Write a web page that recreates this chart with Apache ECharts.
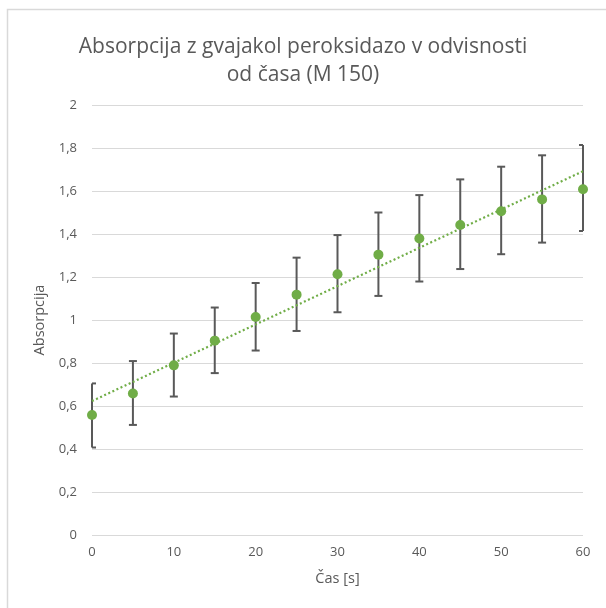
<!DOCTYPE html>
<html>
<head>
<meta charset="utf-8">
<script src="https://cdn.jsdelivr.net/npm/echarts@6/dist/echarts.min.js"></script>
<style>
  html, body { margin: 0; padding: 0; background: #fff; }
  #chart { width: 606px; height: 608px; }
</style>
</head>
<body>
<div id="chart"></div>
<script>
// podatki
const casi = [0, 5, 10, 15, 20, 25, 30, 35, 40, 45, 50, 55, 60]
const absorpcija = [0.558, 0.658, 0.789, 0.904, 1.014, 1.118, 1.213, 1.304, 1.379, 1.442, 1.506, 1.561, 1.608]
const napakaSpodaj = [0.407, 0.512, 0.644, 0.753, 0.858, 0.949, 1.036, 1.112, 1.179, 1.237, 1.306, 1.360, 1.414]
const napakaZgoraj = [0.705, 0.809, 0.937, 1.058, 1.172, 1.290, 1.395, 1.500, 1.581, 1.654, 1.713, 1.766, 1.814]
const trendX = [0, 60]
const trendY = [0.623, 1.692]

const gray = '#595959'
const green = '#70ad47'

const chart = echarts.init(document.getElementById('chart'), null, { renderer: 'canvas' })

const option = {
    animation: false,
    backgroundColor: '#fff',
    textStyle: { fontFamily: 'Open Sans' },
    title: {
        text: 'Absorpcija z gvajakol peroksidazo v odvisnosti\nod časa (M 150)',
        left: 'center',
        top: 28,
        textStyle: {
            fontFamily: 'Open Sans',
            fontSize: 21,
            fontWeight: 'normal',
            color: gray,
            lineHeight: 28
        }
    },
    graphic: [
        {
            type: 'polyline',
            shape: { points: [[7.5, 620], [7.5, 9.5], [620, 9.5]] },
            style: { stroke: '#d9d9d9', lineWidth: 1.5, fill: null },
            silent: true
        }
    ],
    grid: { left: 92, right: 23, top: 105, bottom: 73 },
    xAxis: {
        type: 'value',
        min: 0,
        max: 60,
        interval: 10,
        name: 'Čas [s]',
        nameLocation: 'middle',
        nameGap: 36,
        nameTextStyle: { color: gray, fontSize: 14.5 },
        axisLine: { show: false },
        axisTick: { show: false },
        splitLine: { show: false },
        axisLabel: { color: gray, fontSize: 13, margin: 11 }
    },
    yAxis: {
        type: 'value',
        min: 0,
        max: 2,
        interval: 0.2,
        name: 'Absorpcija',
        nameLocation: 'middle',
        nameGap: 41,
        nameTextStyle: { color: gray, fontSize: 14.5 },
        axisLine: { show: false },
        axisTick: { show: false },
        splitLine: { lineStyle: { color: '#d9d9d9', width: 1 } },
        axisLabel: {
            color: gray,
            fontSize: 13,
            margin: 15,
            formatter: v => String(Math.round(v * 10) / 10).replace('.', ',')
        }
    },
    series: [
        {
            type: 'custom',
            clip: false,
            z: 2,
            data: casi.map((x, i) => [x, napakaSpodaj[i], napakaZgoraj[i]]),
            encode: { x: 0, y: [1, 2] },
            renderItem: (params, api) => {
                const lo = api.coord([api.value(0), api.value(1)])
                const hi = api.coord([api.value(0), api.value(2)])
                const left = params.coordSys.x
                const right = params.coordSys.x + params.coordSys.width
                const w = 4
                const x1 = Math.max(left, hi[0] - w)
                const x2 = Math.min(right, hi[0] + w)
                const st = { stroke: gray, lineWidth: 2 }
                return {
                    type: 'group',
                    children: [
                        { type: 'line', shape: { x1: hi[0], y1: hi[1], x2: lo[0], y2: lo[1] }, style: st },
                        { type: 'line', shape: { x1: x1, y1: hi[1], x2: x2, y2: hi[1] }, style: st },
                        { type: 'line', shape: { x1: x1, y1: lo[1], x2: x2, y2: lo[1] }, style: st }
                    ]
                }
            }
        },
        {
            type: 'line',
            z: 3,
            symbol: 'none',
            data: trendX.map((x, i) => [x, trendY[i]]),
            lineStyle: { color: green, width: 2.2, type: [2, 2.5] }
        },
        {
            type: 'scatter',
            z: 4,
            symbol: 'circle',
            symbolSize: 10,
            itemStyle: { color: green, opacity: 1 },
            data: casi.map((x, i) => [x, absorpcija[i]])
        }
    ]
}

chart.setOption(option)
</script>
</body>
</html>
